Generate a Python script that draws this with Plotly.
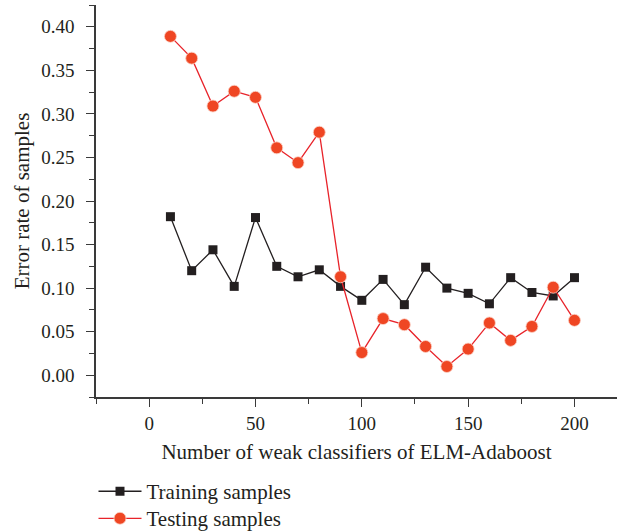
import plotly.graph_objects as go

x_vals = [10, 20, 30, 40, 50, 60, 70, 80, 90, 100, 110, 120, 130, 140, 150, 160, 170, 180, 190, 200]
training = [0.182, 0.120, 0.144, 0.102, 0.181, 0.125, 0.113, 0.121, 0.102, 0.086,
            0.110, 0.081, 0.124, 0.100, 0.094, 0.082, 0.112, 0.095, 0.091, 0.112]
testing = [0.389, 0.364, 0.309, 0.326, 0.319, 0.261, 0.244, 0.279, 0.113, 0.026,
           0.065, 0.058, 0.033, 0.010, 0.030, 0.060, 0.040, 0.056, 0.101, 0.063]
x_ticks = [0, 50, 100, 150, 200]
y_ticks = [0.00, 0.05, 0.10, 0.15, 0.20, 0.25, 0.30, 0.35, 0.40]

FONT = "Liberation Serif"

fig = go.Figure()
fig.add_trace(go.Scatter(
    x=x_vals, y=training, mode="lines+markers", name="Training samples",
    line=dict(color="#231f20", width=1.3),
    marker=dict(symbol="square", size=9, color="#231f20"),
    legend="legend",
))
fig.add_trace(go.Scatter(
    x=x_vals, y=testing, mode="lines+markers", name="Testing samples",
    line=dict(color="#e8232a", width=1.3),
    marker=dict(symbol="circle", size=12, color="#ef4623",
                line=dict(color="#fbd3c8", width=0.8)),
    legend="legend2",
))

axis_common = dict(
    showline=True, linecolor="#3a3a3a", linewidth=1.5, mirror=False,
    showgrid=False, zeroline=False, automargin=False,
    ticks="outside", ticklen=8, tickwidth=1.2, tickcolor="#3a3a3a",
    tickfont=dict(family=FONT, size=19, color="#231f20"),
)

fig.update_xaxes(
    range=[-25, 220], tickvals=x_ticks,
    minor=dict(dtick=25, tick0=0, ticks="outside", ticklen=5, tickwidth=1.2, tickcolor="#3a3a3a"),
    title=dict(text="Number of weak classifiers of ELM-Adaboost",
               font=dict(family=FONT, size=21, color="#231f20"), standoff=12),
    ticklabelstandoff=0,
    **axis_common,
)
fig.update_yaxes(
    range=[-0.025, 0.425], tickvals=y_ticks, tickformat=".2f",
    minor=dict(dtick=0.025, tick0=0, ticks="outside", ticklen=5, tickwidth=1.2, tickcolor="#3a3a3a"),
    title=dict(text="Error rate of samples",
               font=dict(family=FONT, size=21, color="#231f20"), standoff=6),
    ticklabelstandoff=8,
    **axis_common,
)

legend_common = dict(
    x=-0.0048, xanchor="left", yanchor="top", orientation="v",
    font=dict(family=FONT, size=21, color="#231f20"),
    bgcolor="rgba(0,0,0,0)", itemwidth=43,
)

fig.update_layout(
    width=618, height=532,
    margin=dict(l=96, r=1, t=5, b=135, autoexpand=False),
    paper_bgcolor="white", plot_bgcolor="white",
    showlegend=True,
    legend=dict(y=-0.189, **legend_common),
    legend2=dict(y=-0.258, **legend_common),
)

fig.write_html("out.html", config={"displayModeBar": False},
               post_script="document.body.style.margin='0';document.body.style.overflow='hidden';")
